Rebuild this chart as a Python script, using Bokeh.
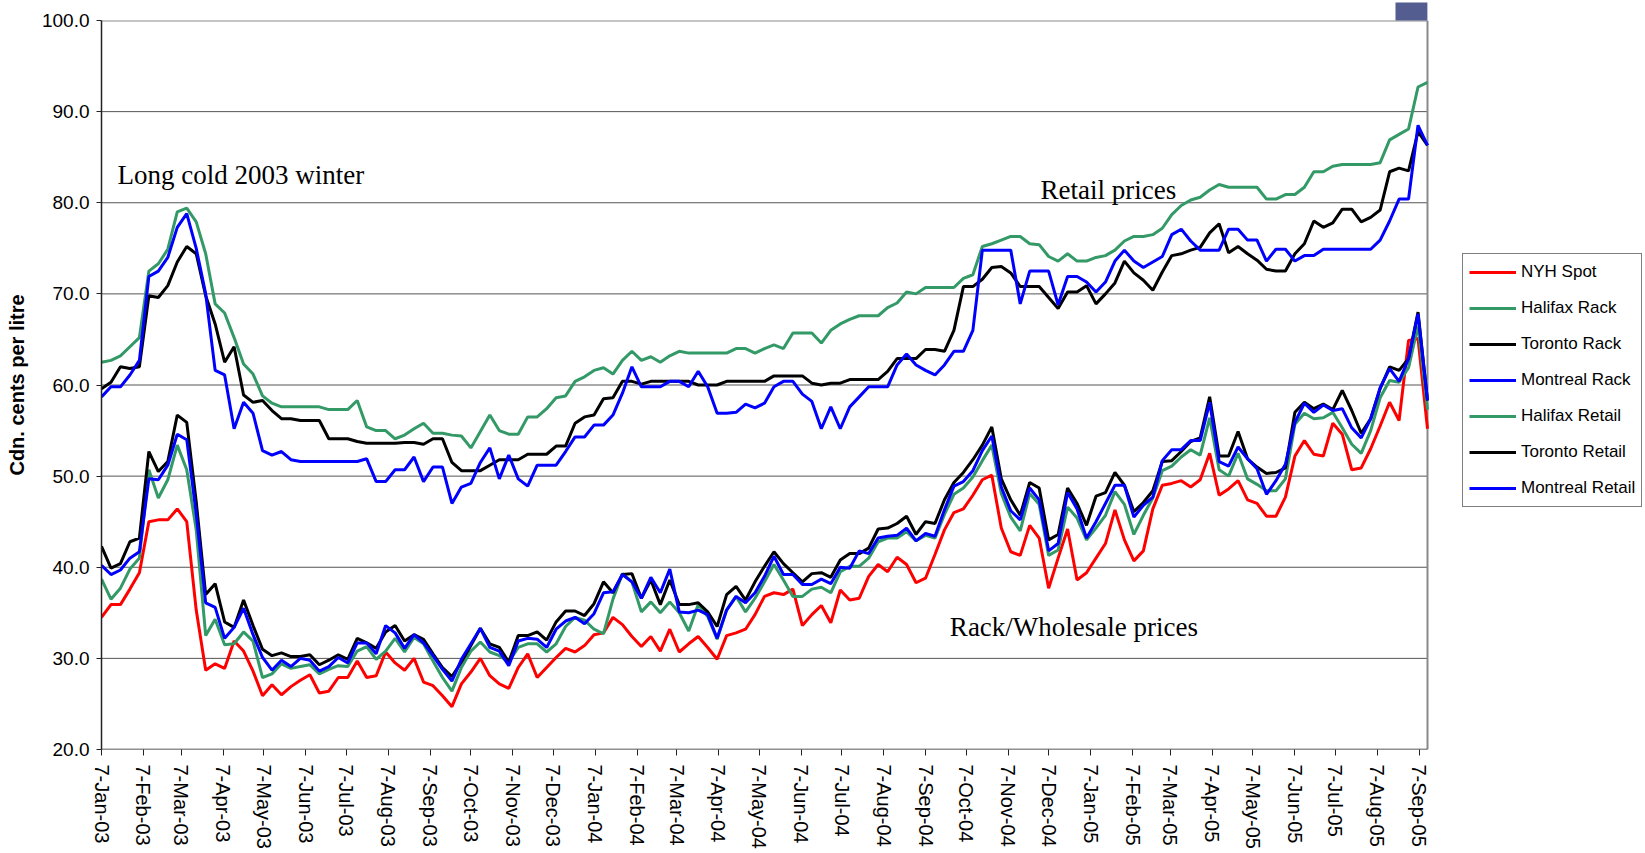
import datetime as dt
from bokeh.plotting import figure
from bokeh.models import (Range1d, FixedTicker, Legend, LegendItem, Label, Title,
                          ColumnDataSource, NumeralTickFormatter)
from bokeh.embed import file_html
from bokeh.resources import INLINE

# ---------------- data ----------------
first_week = "2003-01-07"   # weekly observations, 141 weeks
n_weeks = 141

tick_labels = ["7-Jan-03", "7-Feb-03", "7-Mar-03", "7-Apr-03", "7-May-03", "7-Jun-03",
               "7-Jul-03", "7-Aug-03", "7-Sep-03", "7-Oct-03", "7-Nov-03", "7-Dec-03",
               "7-Jan-04", "7-Feb-04", "7-Mar-04", "7-Apr-04", "7-May-04", "7-Jun-04",
               "7-Jul-04", "7-Aug-04", "7-Sep-04", "7-Oct-04", "7-Nov-04", "7-Dec-04",
               "7-Jan-05", "7-Feb-05", "7-Mar-05", "7-Apr-05", "7-May-05", "7-Jun-05",
               "7-Jul-05", "7-Aug-05", "7-Sep-05"]
y_ticks = [20, 30, 40, 50, 60, 70, 80, 90, 100]

nyh_spot = [
    34.5, 35.9, 35.9, 37.6, 39.4, 45.0, 45.2, 45.2, 46.4, 45.0,
    35.3, 28.7, 29.4, 28.9, 31.9, 30.8, 28.6, 25.9, 27.1, 26.0,
    26.9, 27.6, 28.2, 26.2, 26.4, 27.9, 27.9, 29.7, 27.9, 28.1,
    30.7, 29.5, 28.7, 30.0, 27.4, 27.0, 25.9, 24.7, 27.2, 28.5,
    30.0, 28.1, 27.2, 26.7, 29.0, 30.5, 27.9, 29.0, 30.1, 31.1,
    30.7, 31.4, 32.6, 32.8, 34.5, 33.7, 32.4, 31.3, 32.4, 30.8,
    33.2, 30.7, 31.6, 32.4, 31.2, 29.9, 32.5, 32.8, 33.2, 34.8,
    36.8, 37.2, 37.0, 37.6, 33.6, 34.8, 35.8, 33.9, 37.5, 36.4,
    36.6, 39.0, 40.3, 39.5, 41.1, 40.3, 38.3, 38.8, 41.4, 44.1,
    46.0, 46.4, 47.9, 49.6, 50.1, 44.3, 41.7, 41.3, 44.6, 43.2,
    37.7, 41.0, 44.2, 38.6, 39.4, 41.0, 42.6, 46.3, 43.0, 40.7,
    41.8, 46.4, 49.0, 49.2, 49.5, 48.8, 49.6, 52.5, 47.9, 48.6,
    49.5, 47.4, 47.0, 45.6, 45.6, 47.7, 52.2, 53.9, 52.4, 52.2,
    55.8, 54.6, 50.7, 50.9, 53.0, 55.5, 58.1, 56.1, 64.9, 65.1,
    55.2]

halifax_rack = [
    38.7, 36.5, 37.7, 39.8, 41.0, 50.7, 47.6, 49.6, 53.4, 50.7,
    44.1, 32.5, 34.3, 31.5, 31.6, 32.9, 31.9, 27.9, 28.3, 29.4,
    28.9, 29.1, 29.3, 28.3, 28.8, 29.2, 29.1, 30.8, 31.3, 29.9,
    30.8, 32.2, 30.7, 32.3, 31.6, 29.7, 27.9, 26.4, 29.0, 30.8,
    31.8, 30.7, 30.3, 29.6, 31.2, 31.6, 31.6, 30.7, 31.6, 33.5,
    34.5, 34.2, 33.2, 32.7, 36.5, 39.3, 38.4, 35.1, 36.2, 35.0,
    36.2, 35.0, 33.0, 35.9, 34.6, 32.1, 35.3, 36.8, 35.1, 36.6,
    38.4, 40.3, 38.6, 36.8, 36.8, 37.6, 37.8, 37.2, 39.5, 40.1,
    40.1, 41.0, 42.8, 43.2, 43.2, 43.9, 42.9, 43.5, 43.2, 45.8,
    48.0, 48.7, 49.9, 51.7, 53.4, 48.1, 45.5, 44.0, 48.1, 46.9,
    41.3, 41.9, 46.6, 45.4, 43.0, 44.3, 45.7, 48.3, 46.9, 43.6,
    45.7, 47.6, 50.6, 51.1, 52.1, 52.9, 52.3, 56.4, 50.7, 50.0,
    52.5, 49.7, 49.1, 48.4, 48.4, 49.7, 55.7, 56.9, 56.3, 56.4,
    57.0, 55.3, 53.5, 52.5, 55.0, 58.6, 60.5, 60.3, 61.9, 66.5,
    57.3]

toronto_rack = [
    42.3, 39.9, 40.4, 42.8, 43.2, 52.7, 50.5, 51.6, 56.7, 55.9,
    47.2, 37.0, 38.2, 34.0, 33.4, 36.4, 33.6, 31.0, 30.3, 30.6,
    30.2, 30.2, 30.4, 29.3, 29.8, 30.4, 29.9, 32.2, 31.7, 31.1,
    32.9, 33.6, 31.9, 32.6, 32.1, 30.5, 29.0, 28.0, 29.6, 31.4,
    33.3, 31.6, 31.2, 29.6, 32.5, 32.5, 32.9, 32.0, 34.0, 35.2,
    35.2, 34.7, 36.0, 38.4, 37.2, 39.2, 39.3, 36.6, 38.6, 35.9,
    38.6, 35.9, 35.9, 36.1, 35.1, 33.5, 37.0, 37.9, 36.4, 38.4,
    40.1, 41.7, 40.4, 39.4, 38.4, 39.3, 39.4, 38.9, 40.8, 41.5,
    41.5, 42.1, 44.2, 44.3, 44.8, 45.6, 43.6, 45.0, 44.8, 47.4,
    49.3, 50.4, 51.8, 53.4, 55.4, 49.7, 47.4, 45.7, 49.3, 48.7,
    43.0, 43.6, 48.7, 47.0, 44.6, 47.8, 48.2, 50.4, 49.0, 46.1,
    47.1, 48.4, 51.6, 51.7, 52.7, 53.8, 54.2, 58.7, 52.2, 52.2,
    54.9, 51.9, 51.0, 50.3, 50.4, 50.9, 57.0, 58.1, 57.4, 57.9,
    57.3, 59.4, 57.2, 54.7, 56.3, 59.6, 62.0, 61.6, 62.9, 68.0,
    58.3]

montreal_rack = [
    40.2, 39.2, 39.7, 41.0, 41.7, 49.7, 49.6, 51.2, 54.6, 54.0,
    45.9, 36.1, 35.6, 32.2, 33.4, 35.5, 32.6, 30.1, 28.7, 29.8,
    29.1, 30.0, 29.8, 28.6, 29.1, 30.1, 29.5, 31.7, 31.7, 30.5,
    33.6, 32.8, 31.1, 32.6, 31.7, 30.3, 28.8, 27.5, 29.9, 31.6,
    33.3, 31.2, 30.8, 29.2, 31.9, 32.2, 32.1, 31.2, 33.2, 34.1,
    34.5, 33.8, 34.9, 37.2, 37.3, 39.2, 38.4, 36.6, 38.9, 37.2,
    39.8, 35.1, 35.0, 35.3, 34.8, 32.2, 35.3, 36.8, 36.1, 37.2,
    39.0, 41.2, 39.2, 39.2, 38.1, 38.1, 38.7, 38.2, 40.0, 39.9,
    41.8, 41.5, 43.2, 43.4, 43.5, 44.3, 42.9, 43.7, 43.4, 46.3,
    48.9, 49.4, 50.6, 52.8, 54.4, 48.8, 46.2, 45.2, 48.7, 47.4,
    41.8, 42.6, 48.2, 46.4, 43.2, 45.0, 47.0, 49.0, 49.0, 45.5,
    46.8, 47.7, 51.7, 52.9, 52.9, 53.9, 53.9, 58.1, 51.6, 51.1,
    53.2, 51.9, 50.8, 48.0, 49.5, 51.3, 55.9, 58.0, 57.0, 57.8,
    57.2, 57.4, 55.3, 54.2, 56.3, 59.7, 61.8, 60.4, 62.9, 67.8,
    58.3]

halifax_retail = [
    62.5, 62.7, 63.2, 64.2, 65.2, 72.5, 73.3, 74.9, 79.0, 79.4,
    77.9, 74.4, 68.9, 67.9, 65.2, 62.3, 61.2, 58.8, 58.0, 57.6,
    57.6, 57.6, 57.6, 57.6, 57.3, 57.3, 57.3, 58.3, 55.4, 55.0,
    55.0, 54.1, 54.5, 55.2, 55.8, 54.7, 54.7, 54.5, 54.4, 53.1,
    54.9, 56.7, 55.0, 54.6, 54.6, 56.5, 56.5, 57.4, 58.6, 58.8,
    60.4, 60.9, 61.6, 61.9, 61.2, 62.7, 63.7, 62.7, 63.1, 62.5,
    63.2, 63.7, 63.5, 63.5, 63.5, 63.5, 63.5, 64.0, 64.0, 63.5,
    64.0, 64.4, 64.0, 65.7, 65.7, 65.7, 64.6, 66.0, 66.7, 67.2,
    67.6, 67.6, 67.6, 68.5, 69.0, 70.2, 70.0, 70.7, 70.7, 70.7,
    70.7, 71.7, 72.1, 75.2, 75.5, 75.9, 76.3, 76.3, 75.5, 75.4,
    74.1, 73.6, 74.4, 73.6, 73.6, 74.0, 74.2, 74.8, 75.8, 76.3,
    76.3, 76.5, 77.2, 78.7, 79.7, 80.3, 80.6, 81.4, 82.0, 81.7,
    81.7, 81.7, 81.7, 80.4, 80.4, 80.9, 80.9, 81.7, 83.4, 83.4,
    84.0, 84.2, 84.2, 84.2, 84.2, 84.4, 86.9, 87.5, 88.1, 92.7,
    93.2]

toronto_retail = [
    59.6, 60.3, 62.0, 61.8, 62.0, 69.8, 69.6, 70.9, 73.5, 75.2,
    74.4, 69.8, 66.7, 62.5, 64.2, 58.9, 58.1, 58.3, 57.2, 56.3,
    56.3, 56.1, 56.1, 56.1, 54.1, 54.1, 54.1, 53.8, 53.6, 53.6,
    53.6, 53.6, 53.7, 53.7, 53.5, 54.1, 54.1, 51.5, 50.6, 50.6,
    50.6, 51.2, 51.8, 51.8, 51.8, 52.4, 52.4, 52.4, 53.3, 53.3,
    55.8, 56.5, 56.7, 58.5, 58.6, 60.4, 60.4, 60.1, 60.4, 60.4,
    60.4, 60.4, 60.4, 60.0, 60.0, 60.0, 60.4, 60.4, 60.4, 60.4,
    60.4, 61.0, 61.0, 61.0, 61.0, 60.2, 60.0, 60.2, 60.2, 60.6,
    60.6, 60.6, 60.6, 61.5, 62.9, 62.9, 62.9, 63.9, 63.9, 63.7,
    66.0, 70.8, 70.8, 71.6, 72.9, 73.0, 72.3, 70.8, 70.8, 70.8,
    69.6, 68.4, 70.2, 70.2, 70.9, 68.9, 70.0, 71.2, 73.6, 72.3,
    71.5, 70.4, 72.4, 74.2, 74.4, 74.8, 75.1, 76.7, 77.7, 74.5,
    75.2, 74.4, 73.7, 72.7, 72.5, 72.5, 74.4, 75.5, 78.0, 77.3,
    77.8, 79.3, 79.3, 77.9, 78.4, 79.2, 83.4, 83.8, 83.5, 87.8,
    86.3]

montreal_retail = [
    58.7, 59.8, 59.8, 61.1, 62.7, 71.9, 72.5, 74.0, 77.3, 78.8,
    75.0, 70.0, 61.6, 61.1, 55.2, 58.1, 56.9, 52.8, 52.3, 52.7,
    51.8, 51.6, 51.6, 51.6, 51.6, 51.6, 51.6, 51.6, 51.9, 49.4,
    49.4, 50.7, 50.7, 52.1, 49.4, 51.0, 51.0, 47.0, 48.8, 49.2,
    51.5, 53.1, 49.7, 52.3, 49.7, 48.9, 51.2, 51.2, 51.2, 52.7,
    54.3, 54.3, 55.6, 55.6, 56.7, 59.1, 62.0, 59.8, 59.8, 59.8,
    60.4, 60.4, 59.8, 61.5, 59.8, 56.9, 56.9, 57.0, 57.9, 57.5,
    58.0, 59.8, 60.4, 60.4, 59.0, 58.2, 55.2, 57.6, 55.2, 57.6,
    58.7, 59.8, 59.8, 59.8, 62.2, 63.4, 62.2, 61.6, 61.1, 62.2,
    63.7, 63.7, 66.0, 74.8, 74.8, 74.8, 74.8, 68.9, 72.5, 72.5,
    72.5, 68.8, 71.9, 71.9, 71.3, 70.2, 71.3, 73.6, 74.8, 73.6,
    72.9, 73.5, 74.1, 76.5, 77.1, 75.8, 74.8, 74.8, 74.8, 77.1,
    77.1, 75.9, 75.9, 73.6, 74.9, 74.9, 73.6, 74.2, 74.2, 74.9,
    74.9, 74.9, 74.9, 74.9, 74.9, 75.9, 78.0, 80.4, 80.4, 88.5,
    86.3]

series = [
    ("NYH Spot", nyh_spot, "#FF0000"),
    ("Halifax Rack", halifax_rack, "#339966"),
    ("Toronto Rack", toronto_rack, "#000000"),
    ("Montreal Rack", montreal_rack, "#0000FF"),
    ("Halifax Retail", halifax_retail, "#339966"),
    ("Toronto Retail", toronto_retail, "#000000"),
    ("Montreal Retail", montreal_retail, "#0000FF"),
]

# ---------------- build ----------------
start = dt.datetime.strptime(first_week, "%Y-%m-%d").date()
day = [7 * i for i in range(n_weeks)]
tick_days = [(dt.datetime.strptime(t, "%d-%b-%y").date() - start).days for t in tick_labels]
x_last = day[-1]

source = ColumnDataSource(dict(day=day, **{name: vals for name, vals, _ in series}))

W, H = 1645, 852
FRAME_L, FRAME_T, PLOT_W, FRAME_H = 101, 19, 1326, 730
FRAME_W = W - FRAME_L                      # frame extends to the right edge (room for legend)
x_end = x_last * FRAME_W / PLOT_W          # so that the data area keeps its width

p = figure(width=W, height=H,
           x_range=Range1d(0, x_end), y_range=Range1d(20, 100),
           output_backend="svg", toolbar_location=None,
           min_border_left=FRAME_L, min_border_right=0,
           min_border_top=FRAME_T, min_border_bottom=H - FRAME_T - FRAME_H,
           background_fill_color="white", border_fill_color="white",
           outline_line_color=None)

# small slate-blue tab above the top-right corner of the plot area
tab_color = "#535D8F"
p.add_layout(Title(text="\u00a0", align="left", offset=PLOT_W - 32, standoff=0,
                   text_font="Liberation Sans", text_font_size="14px",
                   text_color=tab_color, background_fill_color=tab_color,
                   padding=(14, 14, 1, 1)), "above")

font = "Liberation Sans"

# x axis
p.xaxis.ticker = FixedTicker(ticks=tick_days)
p.xaxis.major_label_overrides = {d: t for d, t in zip(tick_days, tick_labels)}
p.xaxis.major_label_orientation = "vertical"
p.xaxis.major_label_text_font = font
p.xaxis.major_label_text_font_size = "20px"
p.xaxis.major_label_text_color = "black"
p.xaxis.major_label_standoff = 9
p.xaxis.major_tick_out = 6
p.xaxis.major_tick_in = 0
p.xaxis.minor_tick_line_color = None
p.xaxis.axis_line_color = None
p.xaxis.major_tick_line_color = "#222222"
p.xgrid.visible = False
p.ygrid.visible = False

# y axis
p.yaxis.ticker = FixedTicker(ticks=y_ticks)
p.yaxis.formatter = NumeralTickFormatter(format="0.0")
p.yaxis.major_label_text_font = font
p.yaxis.major_label_text_font_size = "19px"
p.yaxis.major_label_text_color = "black"
p.yaxis.major_label_standoff = 7
p.yaxis.major_tick_out = 5
p.yaxis.major_tick_in = 0
p.yaxis.minor_tick_line_color = None
p.yaxis.axis_line_color = "#222222"
p.yaxis.axis_line_width = 1.5
p.yaxis.major_tick_line_color = "#222222"
p.yaxis.axis_label = "Cdn. cents per litre"
p.yaxis.axis_label_text_font = font
p.yaxis.axis_label_text_font_style = "bold"
p.yaxis.axis_label_text_font_size = "20px"
p.yaxis.axis_label_text_color = "black"
p.yaxis.axis_label_standoff = 11

# horizontal gridlines, limited to the data area
inner = [t for t in y_ticks if 20 < t < 100]
p.segment(x0=[0] * len(inner), x1=[x_last] * len(inner), y0=inner, y1=inner,
          line_color="#555555", line_width=1)
# top border (gray), right border (gray), bottom axis line (dark)
p.segment(x0=[0], x1=[x_last], y0=[100], y1=[100], line_color="#8a8a8a", line_width=2)
p.segment(x0=[x_last], x1=[x_last], y0=[20], y1=[100], line_color="#8a8a8a", line_width=2)
p.segment(x0=[0], x1=[x_last], y0=[20], y1=[20], line_color="#222222", line_width=1.5)

items = []
for name, vals, color in series:
    r = p.line("day", name, source=source, line_color=color, line_width=3)
    items.append(LegendItem(label=name, renderers=[r]))

legend = Legend(items=items, location=(1361, 242), orientation="vertical",
                glyph_width=47, glyph_height=24, label_height=24, spacing=12,
                padding=6, label_standoff=5, margin=0,
                label_text_font=font, label_text_font_size="17px",
                label_text_color="black",
                border_line_color="black", border_line_width=1,
                background_fill_color="white", background_fill_alpha=1)
p.add_layout(legend)

for txt, x, y in [("Long cold  2003 winter", 11.8, 83.06),
                  ("Retail prices", 694, 81.41),
                  ("Rack/Wholesale prices", 627, 33.45)]:
    p.add_layout(Label(x=x, y=y, text=txt, text_font="Liberation Serif",
                       text_font_size="27px", text_color="black",
                       text_baseline="alphabetic", text_align="left"))

open("out.html", "w").write(file_html(p, INLINE))
